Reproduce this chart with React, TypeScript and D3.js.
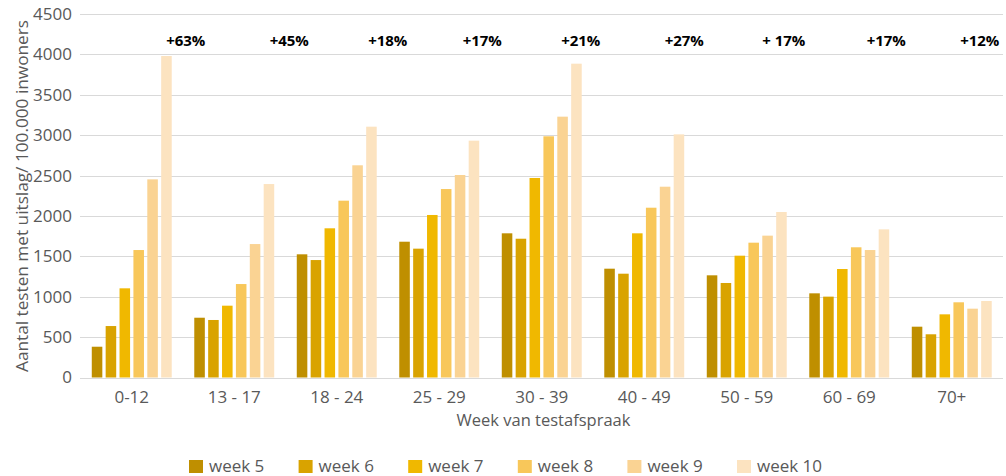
import React from "react";
import * as d3 from "d3";

const categories = ["0-12", "13 - 17", "18 - 24", "25 - 29", "30 - 39", "40 - 49", "50 - 59", "60 - 69", "70+"];
const weeks = ["week 5", "week 6", "week 7", "week 8", "week 9", "week 10"];
const week5 = [381, 740, 1525, 1681, 1785, 1347, 1265, 1042, 629];
const week6 = [637, 712, 1454, 1595, 1718, 1285, 1170, 1001, 535];
const week7 = [1104, 889, 1847, 2012, 2470, 1785, 1508, 1343, 782];
const week8 = [1578, 1157, 2189, 2333, 2986, 2102, 1669, 1612, 931];
const week9 = [2453, 1652, 2627, 2507, 3229, 2362, 1756, 1578, 852];
const week10 = [3980, 2395, 3105, 2932, 3885, 3010, 2049, 1834, 947];
const changeLabels = ["+63%", "+45%", "+18%", "+17%", "+21%", "+27%", "+ 17%", "+17%", "+12%"];
const yTicks = [0, 500, 1000, 1500, 2000, 2500, 3000, 3500, 4000, 4500];

const series = [week5, week6, week7, week8, week9, week10];
const colors = ["#BF8F00", "#D9A300", "#F0B800", "#F8C75A", "#FAD393", "#FCE3C0"];
// manual text-box offsets of the change annotations relative to group centres
const labelDx = [54, 55, 51, 43, 39, 40, 37, 37, 28];

const W = 1006;
const H = 476;
const FONT = "'Open Sans', 'Noto Sans', sans-serif";

export default function App() {
  const x = d3.scaleBand<string>().domain(categories).range([80.5, 1003]).paddingInner(0.22).paddingOuter(0.11);
  const xi = d3.scaleBand<string>().domain(weeks).range([0, x.bandwidth()]).paddingInner(0.24).paddingOuter(0);
  const y = d3.scaleLinear().domain([0, 4500]).range([377.5, 14]);

  return (
    <div style={{ position: "absolute", left: 0, top: 0 }}>
      <svg width={W} height={H} style={{ display: "block", background: "#fff" }} fontFamily={FONT}>
        {yTicks.map((t) => (
          <g key={t}>
            <line x1={80} x2={1003} y1={Math.round(y(t)) + 0.5} y2={Math.round(y(t)) + 0.5} stroke="#D9D9D9" strokeWidth={1.2} />
            <text x={72} y={y(t)} dy="0.35em" textAnchor="end" fontSize={17} fill="#595959">{t}</text>
          </g>
        ))}
        {categories.map((c, ci) => (
          <g key={c} transform={`translate(${x(c)},0)`}>
            {series.map((s, si) => (
              <rect key={si} x={xi(weeks[si])} width={xi.bandwidth()} y={y(s[ci])} height={y(0) - y(s[ci])} fill={colors[si]} />
            ))}
          </g>
        ))}
        {categories.map((c, ci) => (
          <text key={c} x={(x(c) as number) + x.bandwidth() / 2} y={403} textAnchor="middle" fontSize={17} fill="#595959">{c}</text>
        ))}
        {categories.map((c, ci) => (
          <text key={"p" + c} x={(x(c) as number) + x.bandwidth() / 2 + labelDx[ci]} y={46} textAnchor="middle" fontSize={15} fontWeight={700} fill="#000">{changeLabels[ci]}</text>
        ))}
        <text x={543.5} y={426} textAnchor="middle" fontSize={16.5} fill="#595959">Week van testafspraak</text>
        <text transform="translate(28,196) rotate(-90)" textAnchor="middle" fontSize={16} fill="#595959" textLength={352} lengthAdjust="spacingAndGlyphs">Aantal testen met uitslag/ 100.000 inwoners</text>
        {weeks.map((w, i) => (
          <g key={w} transform={`translate(${189 + i * 109.6},0)`}>
            <rect x={0} y={460} width={14} height={13} fill={colors[i]} />
            <text x={20} y={472} fontSize={17} fill="#595959">{w}</text>
          </g>
        ))}
      </svg>
    </div>
  );
}
